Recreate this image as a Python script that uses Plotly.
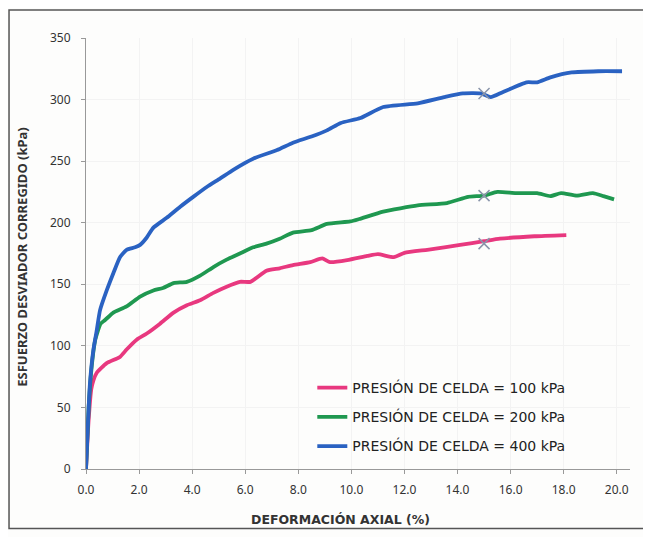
import plotly.graph_objects as go

# deformación axial (%) y esfuerzo desviador corregido (kPa)
x_100 = [0, 0.1, 0.2, 0.28, 0.4, 0.78, 1.28, 1.53, 1.91, 2.29, 2.79, 3.3, 3.8, 4.3, 4.8,
         5.3, 5.8, 6.2, 6.8, 7.3, 7.8, 8.45, 8.9, 9.2, 9.84, 10.6, 11.0, 11.6, 12.0,
         12.86, 13.5, 14.1, 15.0, 15.6, 16.9, 18.1]
y_100 = [0, 40, 65, 72, 78, 86, 91, 97, 105, 110, 118, 127, 133, 137, 143,
         148, 152, 152, 161, 163, 165.6, 168, 171, 168, 169.6, 173, 174.5, 172, 175.5,
         178, 180, 182, 185, 187, 189, 190]

x_200 = [0, 0.1, 0.2, 0.35, 0.55, 0.72, 1.03, 1.53, 2.04, 2.54, 2.9, 3.3, 3.8, 4.3, 4.8,
         5.3, 5.8, 6.3, 6.8, 7.3, 7.8, 8.5, 9.08, 9.96, 10.3, 11.2, 12.5, 13.6, 14.4,
         15.0, 15.5, 16.2, 17.0, 17.5, 17.9, 18.5, 19.1, 19.5, 19.9]
y_200 = [0, 50, 80, 105, 118, 121, 127, 132, 140, 145, 147, 151, 152, 157, 164,
         170, 175, 180, 183, 187, 192, 194, 199, 201, 203, 209, 214, 216, 221,
         222, 225, 224, 224, 221.6, 224, 222, 224, 221.6, 219]

x_400 = [0, 0.1, 0.15, 0.28, 0.4, 0.53, 0.78, 1.03, 1.28, 1.53, 1.85, 2.04, 2.29, 2.54,
         3.04, 3.55, 4.04, 4.55, 5.06, 5.55, 6.3, 7.2, 7.8, 8.5, 9.08, 9.6, 10.34, 11.2,
         12.5, 13.5, 14.2, 14.87, 15.25, 15.7, 16.6, 17.0, 17.5, 18.3, 19.3, 20.2]
y_400 = [0, 50, 70, 97, 112, 129, 145, 159, 172, 178, 180, 182, 188, 196,
         204, 213, 221, 229, 236, 243, 252, 259, 265, 270, 275, 281, 285, 294,
         297, 302, 305, 305, 302, 306, 314, 314, 318, 322, 323, 323]

# puntos marcados (x) en 15 %
mark_x = [15.0, 15.0, 15.0]
mark_y = [183, 222, 305]

series = [
    ("PRESIÓN DE CELDA = 100 kPa", x_100, y_100, "#e8387f"),
    ("PRESIÓN DE CELDA = 200 kPa", x_200, y_200, "#1f9850"),
    ("PRESIÓN DE CELDA = 400 kPa", x_400, y_400, "#2a62c2"),
]

fig = go.Figure()
for i, (name, xs, ys, c) in enumerate(series):
    fig.add_trace(go.Scatter(x=xs, y=ys, mode="lines", name=name,
                             line=dict(color=c, width=3.8, shape="spline", smoothing=0.5),
                             legendgroup=str(i)))

fig.add_trace(go.Scatter(x=mark_x, y=mark_y, mode="markers", showlegend=False,
                         marker=dict(symbol="x-thin", size=11,
                                     line=dict(width=1.5, color="#8a95aa"))))

font = "Noto Sans, DejaVu Sans, sans-serif"
# la página tiene 8 px de margen en el body, así que se compensa aquí
fig.update_layout(
    width=643, height=529,
    margin=dict(l=78, r=21, t=30, b=68),
    paper_bgcolor="#fdfdfc",
    plot_bgcolor="#fdfdfc",
    font=dict(family=font, size=12, color="#333333"),
    legend=dict(x=0.416, y=0.225, xanchor="left", yanchor="top",
                bgcolor="rgba(0,0,0,0)", tracegroupgap=8,
                font=dict(family="DejaVu Sans", size=14, color="#222222")),
    shapes=[dict(type="rect", xref="paper", yref="paper",
                 x0=-0.1415, x1=1.033, y0=-0.138, y1=1.065,
                 line=dict(color="#555555", width=1.5))],
    annotations=[
        dict(text="<b>DEFORMACIÓN AXIAL (%)</b>", xref="paper", yref="paper",
             x=0.467, y=-0.118, showarrow=False, xanchor="center", yanchor="middle",
             font=dict(family="DejaVu Sans", size=12.5, color="#333333")),
        dict(text="<b>ESFUERZO DESVIADOR CORREGIDO (kPa)</b>", xref="paper", yref="paper",
             x=-0.118, y=0.492, showarrow=False, xanchor="center", yanchor="middle",
             textangle=-90,
             font=dict(family=font, size=13, color="#333333")),
    ],
)

fig.update_xaxes(
    range=[0, 20.5], tickvals=[0, 2, 4, 6, 8, 10, 12, 14, 16, 18, 20],
    tickformat=".1f", ticks="outside", ticklen=4, tickcolor="#999999",
    ticklabelstandoff=6,
    showline=True, linecolor="#999999", linewidth=1,
    showgrid=True, gridcolor="#f3f3f3", zeroline=False,
    tickfont=dict(size=12, color="#333333"),
)
fig.update_yaxes(
    range=[0, 350], dtick=50, ticks="outside", ticklen=4, tickcolor="#999999",
    ticklabelstandoff=8,
    showline=True, linecolor="#999999", linewidth=1,
    showgrid=True, gridcolor="#f3f3f3", zeroline=False,
    tickfont=dict(size=12, color="#333333"),
)

fig.write_html("out.html")
